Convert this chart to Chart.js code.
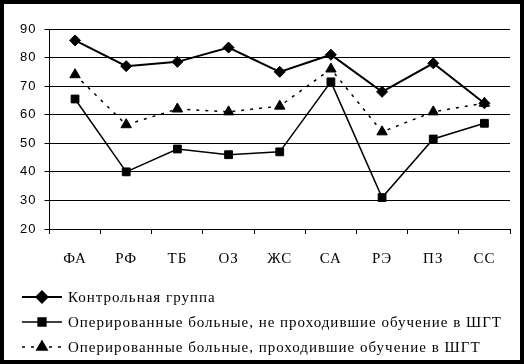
<!DOCTYPE html>
<html>
<head>
<meta charset="utf-8">
<script src="https://cdn.jsdelivr.net/npm/chart.js@4"></script>
<style>
    html, body { margin: 0; padding: 0; background: #000; }
    #wrap { position: absolute; left: 4px; top: 4px; width: 516px; height: 356px; background: #fff; }
</style>
</head>
<body>
<div id="wrap"><canvas id="chart" width="516" height="356"></canvas></div>
<script>
// Categories and series
const categories = ["ФА", "РФ", "ТБ", "ОЗ", "ЖС", "СА", "РЭ", "ПЗ", "СС"];
const controlGroup = [86, 77, 78.5, 83.5, 75, 81, 68, 78, 64];
const notTrained = [65.5, 40, 48, 46, 47, 71.5, 31, 51.5, 57];
const trained = [74, 56.5, 62, 61, 63, 76, 54, 61, 64];
const seriesLabels = [
    "Контрольная группа",
    "Оперированные больные, не проходившие обучение в ШГТ",
    "Оперированные больные, проходившие обучение в ШГТ"
];
const yTicks = [20, 30, 40, 50, 60, 70, 80, 90];

const SERIF = "'Liberation Serif', 'Times New Roman', serif";
const SANS = "'Liberation Sans', Arial, sans-serif";

// the old picture has its text slightly spread out
const spacing = {
    id: "spacing",
    beforeLayout(chart) { chart.ctx.letterSpacing = "1px"; },
    beforeDraw(chart) { chart.ctx.letterSpacing = "1px"; }
};

// legend drawn by hand: a short line with the marker on it, then the label
const lineLegend = {
    id: "lineLegend",
    afterDraw(chart) {
        const ctx = chart.ctx;
        const rows = [293, 318, 343];
        chart.data.datasets.forEach((ds, i) => {
            const y = rows[i];
            ctx.save();
            ctx.strokeStyle = "#000";
            ctx.lineWidth = ds.borderWidth;
            ctx.setLineDash(ds.borderDash || []);
            ctx.beginPath();
            ctx.moveTo(18, y);
            ctx.lineTo(58, y);
            ctx.stroke();
            ctx.setLineDash([]);
            Chart.helpers.drawPoint(ctx, {
                pointStyle: ds.pointStyle,
                radius: ds.pointRadius,
                borderWidth: 1
            }, 38, y);
            ctx.fillStyle = "#000";
            ctx.fill();
            ctx.font = "15px " + SERIF;
            ctx.letterSpacing = "1px";
            ctx.textBaseline = "middle";
            ctx.fillText(ds.label, 64, y + 1);
            ctx.restore();
        });
    }
};

new Chart(document.getElementById("chart"), {
    type: "line",
    data: {
        labels: categories,
        datasets: [
            {
                label: seriesLabels[0], data: controlGroup,
                borderColor: "#000", backgroundColor: "#000", borderWidth: 2,
                pointStyle: "rectRot", pointRadius: 5.5, pointBorderWidth: 1, tension: 0
            },
            {
                label: seriesLabels[1], data: notTrained,
                borderColor: "#000", backgroundColor: "#000", borderWidth: 1.5,
                pointStyle: "rect", pointRadius: 5.5, pointBorderWidth: 1, tension: 0
            },
            {
                label: seriesLabels[2], data: trained,
                borderColor: "#000", backgroundColor: "#000", borderWidth: 1.5, borderDash: [3, 6],
                pointStyle: "triangle", pointRadius: 6, pointBorderWidth: 1, tension: 0
            }
        ]
    },
    options: {
        responsive: false,
        animation: false,
        layout: { padding: { top: 25, right: 10, bottom: 76, left: 8 } },
        plugins: {
            legend: { display: false },
            tooltip: { enabled: false }
        },
        scales: {
            x: {
                offset: true,
                grid: { offset: true, drawOnChartArea: false, drawTicks: true, tickLength: 5, color: "#000" },
                border: { color: "#000", width: 1 },
                ticks: { color: "#000", padding: 16, font: { family: SERIF, size: 15 } }
            },
            y: {
                min: 20, max: 90,
                afterBuildTicks: axis => { axis.ticks = yTicks.map(v => ({ value: v })); },
                grid: { color: "#000", lineWidth: 1, tickLength: 5 },
                border: { color: "#000", width: 1 },
                ticks: { color: "#000", padding: 8, font: { family: SANS, size: 13 } }
            }
        }
    },
    plugins: [spacing, lineLegend]
});
</script>
</body>
</html>
